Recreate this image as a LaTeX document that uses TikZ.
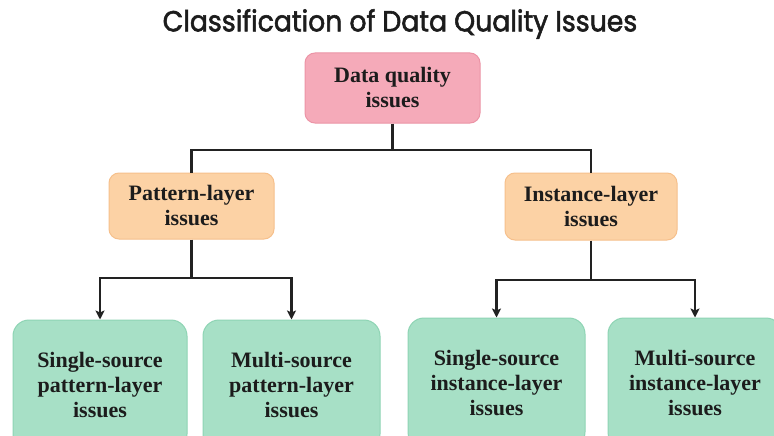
\documentclass[tikz,border=0pt]{standalone}
\usepackage{fontspec}
\setmainfont{Liberation Serif}
\newfontfamily\titlefont{Poppins}[FakeBold=2]
\usetikzlibrary{arrows.meta}
\definecolor{pinkf}{HTML}{F5AAB9}
\definecolor{pinkd}{HTML}{EC94A6}
\definecolor{orgf}{HTML}{FCD2A5}
\definecolor{orgd}{HTML}{F6C08C}
\definecolor{grnf}{HTML}{A7E0C6}
\definecolor{grnd}{HTML}{8ED4B4}
\definecolor{txt}{HTML}{1C1C1C}
\definecolor{linec}{HTML}{222222}
\tikzset{
  box/.style={draw, rounded corners=10pt, line width=1pt, align=center,
    font=\fontsize{22}{25}\selectfont\bfseries, text=txt, inner sep=0pt},
  conn/.style={draw=linec, line width=2.4pt},
  arr/.style={conn, -{Stealth[length=9pt,width=9pt,inset=2pt]}}
}
\begin{document}
\begin{tikzpicture}[x=1pt,y=-1pt]
\useasboundingbox (0,0) rectangle (774,436);
\clip (0,0) rectangle (774,436);
\fill[white] (0,0) rectangle (774,436);
\node[font=\titlefont\fontsize{29}{30}\selectfont, text=txt] (title) at (400,24) {\scalebox{0.92}[1]{Classification of Data Quality Issues}};
\node[box, fill=pinkf, draw=pinkd, minimum width=175pt, minimum height=70pt] (root) at (392.5,88) {Data quality\\issues};
\node[box, fill=orgf, draw=orgd, minimum width=165pt, minimum height=66pt] (pat) at (191.5,206) {Pattern-layer\\issues};
\node[box, fill=orgf, draw=orgd, minimum width=172pt, minimum height=67pt] (ins) at (591,206.5) {Instance-layer\\issues};
\node[box, fill=grnf, draw=grnd, minimum width=174pt, minimum height=130pt, rounded corners=16pt] (b1) at (100,385) {Single-source\\pattern-layer\\issues};
\node[box, fill=grnf, draw=grnd, minimum width=177pt, minimum height=130pt, rounded corners=16pt] (b2) at (291.5,385) {Multi-source\\pattern-layer\\issues};
\node[box, fill=grnf, draw=grnd, minimum width=177pt, minimum height=130pt, rounded corners=16pt] (b3) at (496.5,383) {Single-source\\instance-layer\\issues};
\node[box, fill=grnf, draw=grnd, minimum width=174pt, minimum height=130pt, rounded corners=16pt] (b4) at (695,383) {Multi-source\\instance-layer\\issues};
\coordinate (j1) at (392.5,150);
\coordinate (pj) at (191.5,278);
\coordinate (ij) at (591,280);
\draw[conn] (root.south) -- (j1);
\draw[conn] (pat.north) |- (j1) -| (ins.north);
\draw[conn] (pat.south) -- (pj);
\draw[arr] (pj) -| (b1.north);
\draw[arr] (pj) -| (b2.north);
\draw[conn] (ins.south) -- (ij);
\draw[arr] (ij) -| (b3.north);
\draw[arr] (ij) -| (b4.north);
\end{tikzpicture}
\end{document}
